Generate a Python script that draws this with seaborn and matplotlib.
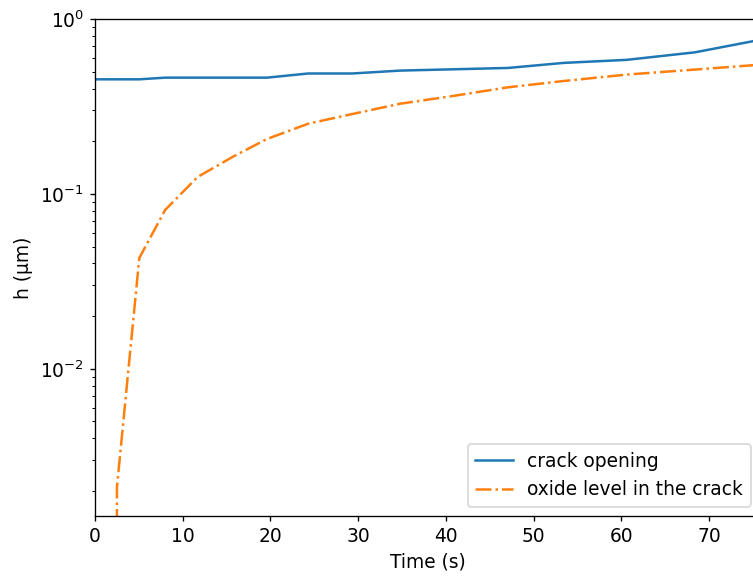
import pandas as pd
import matplotlib
matplotlib.use('Agg')
import matplotlib.pyplot as plt
import seaborn as sns

# crack opening (blue, solid)
t_crack = [0, 5.05, 8.0, 19.6, 24.3, 29.3, 34.8, 47.1, 53.4, 60.6, 68.4, 75.8]
h_crack = [0.452, 0.452, 0.462, 0.462, 0.488, 0.488, 0.507, 0.525, 0.561, 0.584, 0.645, 0.76]

# oxide level in the crack (orange, dash-dot)
t_oxide = [0, 2.5, 5.05, 8.0, 11.7, 15.8, 19.6, 24.3, 29.3, 34.8, 40.5, 47.1, 53.4, 60.6, 68.4, 75.8]
h_oxide = [0.0, 0.0021, 0.043, 0.081, 0.125, 0.164, 0.206, 0.252, 0.286, 0.328, 0.361,
           0.407, 0.442, 0.481, 0.514, 0.548]

df_crack = pd.DataFrame({'t': t_crack, 'h': h_crack})
df_oxide = pd.DataFrame({'t': t_oxide, 'h': h_oxide})

plt.rcParams['font.size'] = 11.2
plt.rcParams['xtick.major.size'] = 3.2
plt.rcParams['ytick.major.size'] = 3.2
plt.rcParams['ytick.minor.size'] = 1.8

fig = plt.figure(figsize=(753 / 120, 577 / 120), dpi=120)
ax = fig.add_axes([95 / 753, 61 / 577, 665 / 753, 497 / 577])

sns.lineplot(data=df_crack, x='t', y='h', color='C0', label='crack opening', ax=ax)
sns.lineplot(data=df_oxide, x='t', y='h', color='C1', linestyle='-.',
             label='oxide level in the crack', ax=ax)

ax.set_yscale('log')
ax.set_xlim(0, 75.8)
ax.set_ylim(1.44e-3, 1.0)
ax.set_xlabel('Time (s)')
ax.set_ylabel('h (µm)')
ax.legend(loc='lower right')

fig.savefig('out.png', dpi=120)
